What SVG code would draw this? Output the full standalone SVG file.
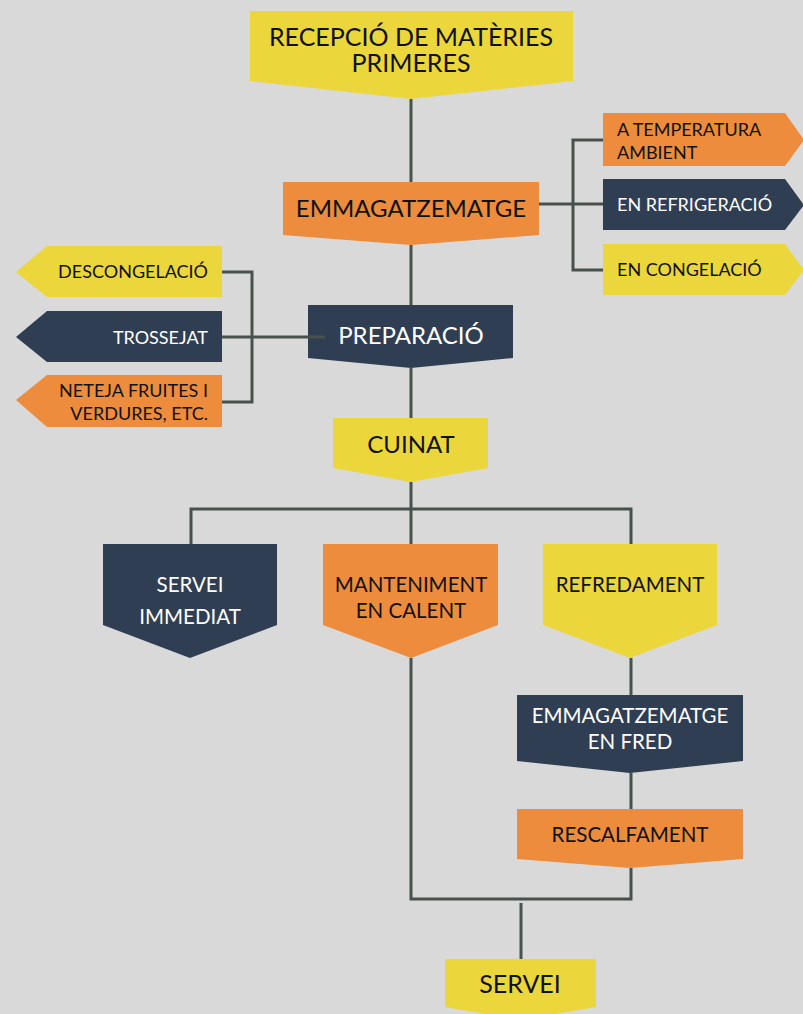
<svg xmlns="http://www.w3.org/2000/svg" width="803" height="1014" viewBox="0 0 803 1014">
  <style>
    .bg { fill: #d9d9d9; }
    .yellow { fill: #ebd63c; }
    .orange { fill: #ec8c3c; }
    .navy { fill: #2f3e52; }
    .link { fill: none; stroke: #48524d; stroke-width: 3; }
    text { font-family: Lato, "Open Sans", "Liberation Sans", sans-serif; }
    .dark { fill: #111111; }
    .light { fill: #ffffff; }
    .mid { text-anchor: middle; }
    .end { text-anchor: end; }
    .t25 { font-size: 25px; }
    .t24 { font-size: 24px; }
    .t20 { font-size: 20.5px; }
    .t18 { font-size: 18px; }
  </style>

  <rect class="bg" x="0" y="0" width="803" height="1014"/>

  <g id="node-recepcio">
    <polygon class="yellow" points="250,11 573,11 573,81 411,99 250,81"/>
    <text class="dark mid t25" x="411" y="46">RECEPCIÓ DE MATÈRIES</text>
    <text class="dark mid t25" x="411" y="72">PRIMERES</text>
  </g>

  <g id="node-emmagatzematge">
    <polygon class="orange" points="283,182 539,182 539,235 411,245 283,235"/>
    <text class="dark mid t24" x="411" y="217">EMMAGATZEMATGE</text>
  </g>

  <g id="node-temperatura-ambient">
    <polygon class="orange" points="603,113 785,113 804,140 785,166 603,166"/>
    <text class="dark t18" x="617" y="136">A TEMPERATURA</text>
    <text class="dark t18" x="617" y="159">AMBIENT</text>
  </g>

  <g id="node-refrigeracio">
    <polygon class="navy" points="603,179 785,179 804,205 785,230 603,230"/>
    <text class="light t18" x="617" y="211">EN REFRIGERACIÓ</text>
  </g>

  <g id="node-congelacio">
    <polygon class="yellow" points="603,244 785,244 804,270 785,295 603,295"/>
    <text class="dark t18" x="617" y="276">EN CONGELACIÓ</text>
  </g>

  <g id="node-descongelacio">
    <polygon class="yellow" points="16,272 47,246 222,246 222,297 47,297"/>
    <text class="dark end t18" x="208" y="278">DESCONGELACIÓ</text>
  </g>

  <g id="node-trossejat">
    <polygon class="navy" points="16,337 47,311 222,311 222,362 47,362"/>
    <text class="light end t18" x="208" y="344">TROSSEJAT</text>
  </g>

  <g id="node-neteja">
    <polygon class="orange" points="16,400 47,375 222,375 222,427 47,427"/>
    <text class="dark end t18" x="208" y="397">NETEJA FRUITES I</text>
    <text class="dark end t18" x="208" y="420">VERDURES, ETC.</text>
  </g>

  <g id="node-preparacio">
    <polygon class="navy" points="308,305 513,305 513,358 411,368 308,358"/>
    <text class="light mid t24" x="411" y="344">PREPARACIÓ</text>
  </g>

  <g id="node-cuinat">
    <polygon class="yellow" points="333,418 488,418 488,468 411,482 333,468"/>
    <text class="dark mid t24" x="411" y="453">CUINAT</text>
  </g>

  <g id="node-servei-immediat">
    <polygon class="navy" points="103,544 277,544 277,625 190,658 103,625"/>
    <text class="light mid t20" x="190" y="592">SERVEI</text>
    <text class="light mid t20" x="190" y="624">IMMEDIAT</text>
  </g>

  <g id="node-manteniment">
    <polygon class="orange" points="323,544 498,544 498,625 411,658 323,625"/>
    <text class="dark mid t20" x="411" y="592">MANTENIMENT</text>
    <text class="dark mid t20" x="411" y="618">EN CALENT</text>
  </g>

  <g id="node-refredament">
    <polygon class="yellow" points="543,544 717,544 717,625 630,658 543,625"/>
    <text class="dark mid t20" x="630" y="592">REFREDAMENT</text>
  </g>

  <g id="node-emmagatzematge-fred">
    <polygon class="navy" points="517,695 743,695 743,761 630,773 517,761"/>
    <text class="light mid t20" x="630" y="723">EMMAGATZEMATGE</text>
    <text class="light mid t20" x="630" y="749">EN FRED</text>
  </g>

  <g id="node-rescalfament">
    <polygon class="orange" points="517,809 743,809 743,859 630,868 517,859"/>
    <text class="dark mid t20" x="630" y="842">RESCALFAMENT</text>
  </g>

  <g id="node-servei">
    <polygon class="yellow" points="445,959 596,959 596,1007 520,1020 445,1007"/>
    <text class="dark mid t25" x="520" y="993">SERVEI</text>
  </g>

  <g id="connectors">
    <path class="link" d="M411,99 V182"/>
    <path class="link" d="M539,204 H603 M603,140 H573 V270 H603"/>
    <path class="link" d="M411,245 V305"/>
    <path class="link" d="M222,272 H252 V402 H222 M222,337 H325"/>
    <path class="link" d="M411,368 V418"/>
    <path class="link" d="M411,482 V544 M191,544 V509 H631 V544"/>
    <path class="link" d="M631,658 V695 M631,773 V809 M631,868 V899 H411 V658"/>
    <path class="link" d="M521,903 V959"/>
  </g>
</svg>
